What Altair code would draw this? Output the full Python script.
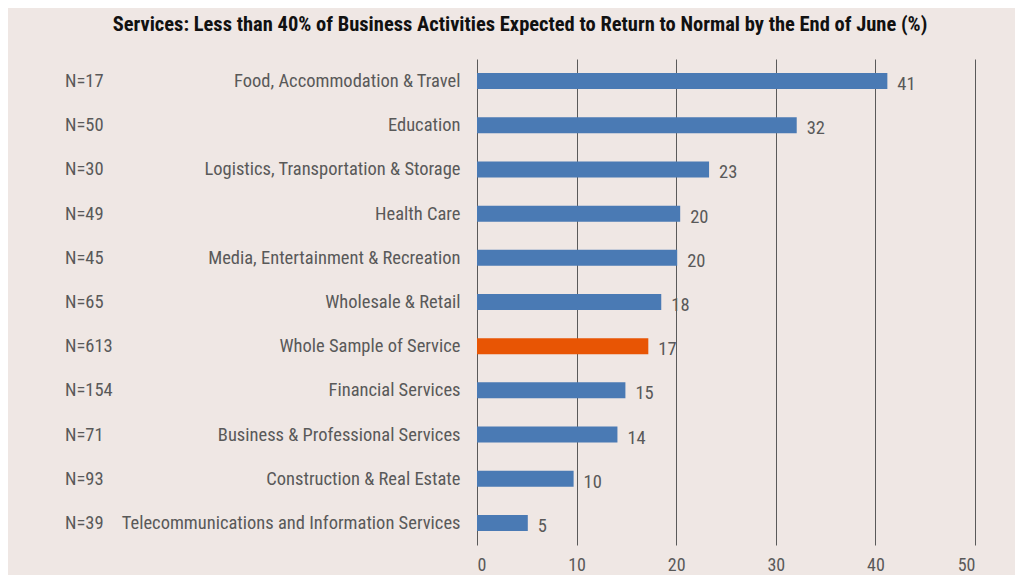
import altair as alt
import pandas as pd

categories = [
    "Food, Accommodation & Travel",
    "Education",
    "Logistics, Transportation & Storage",
    "Health Care",
    "Media, Entertainment & Recreation",
    "Wholesale & Retail",
    "Whole Sample of Service",
    "Financial Services",
    "Business & Professional Services",
    "Construction & Real Estate",
    "Telecommunications and Information Services",
]
n_labels = ["N=17", "N=50", "N=30", "N=49", "N=45", "N=65", "N=613", "N=154", "N=71", "N=93", "N=39"]
values = [41.2, 32.1, 23.3, 20.4, 20.1, 18.5, 17.2, 14.9, 14.1, 9.7, 5.1]
value_labels = ["41", "32", "23", "20", "20", "18", "17", "15", "14", "10", "5"]
highlight = [False, False, False, False, False, False, True, False, False, False, False]

df = pd.DataFrame({
    "cat": categories,
    "n": n_labels,
    "v": values,
    "lab": value_labels,
    "hl": ["Whole" if h else "Sector" for h in highlight],
})

FONT = "Roboto Condensed, DejaVu Sans Condensed, Liberation Sans, sans-serif"
TXT = "#595959"
FS = 18.5

y = alt.Y("cat:N", sort=categories,
          scale=alt.Scale(paddingInner=0, paddingOuter=0),
          axis=alt.Axis(title=None, ticks=False, domain=False, labelPadding=17,
                        labelFont=FONT, labelFontSize=FS, labelColor=TXT,
                        labelLimit=500))

x = alt.X("v:Q", scale=alt.Scale(domain=[0, 50]),
          axis=alt.Axis(title=None, values=[0, 10, 20, 30, 40, 50], ticks=False,
                        domain=False, grid=True, gridColor="#5a5a5a", gridWidth=1,
                        labelFont=FONT, labelFontSize=18, labelColor=TXT,
                        labelPadding=11))

bars = alt.Chart(df).mark_bar(size=16).encode(
    x=x, y=y,
    color=alt.Color("hl:N", scale=alt.Scale(domain=["Sector", "Whole"],
                                            range=["#4a7ab4", "#e85504"]), legend=None),
)

vals = alt.Chart(df).mark_text(align="left", baseline="middle", dx=10, dy=3,
                               font=FONT, fontSize=FS, color=TXT).encode(
    x="v:Q", y=alt.Y("cat:N", sort=categories), text="lab:N")

ns = alt.Chart(df).mark_text(align="left", baseline="middle", font=FONT,
                             fontSize=FS, color=TXT).encode(
    x=alt.value(-412), y=alt.Y("cat:N", sort=categories), text="n:N")

chart = (bars + vals + ns).properties(
    width=498, height=486,
    padding={"left": 469, "top": 51, "right": 40, "bottom": 30},
    autosize=alt.AutoSizeParams(type="none"),
    background="#efe7e4",
    title=alt.TitleParams(
        "Services: Less than 40% of Business Activities Expected to Return to Normal by the End of June (%)",
        font=FONT, fontSize=20.5, fontWeight="bold", color="#111111",
        anchor="middle", dx=-206, offset=24),
).configure_view(stroke=None)

chart.save("out.html", embed_options={"renderer": "svg", "actions": False})
